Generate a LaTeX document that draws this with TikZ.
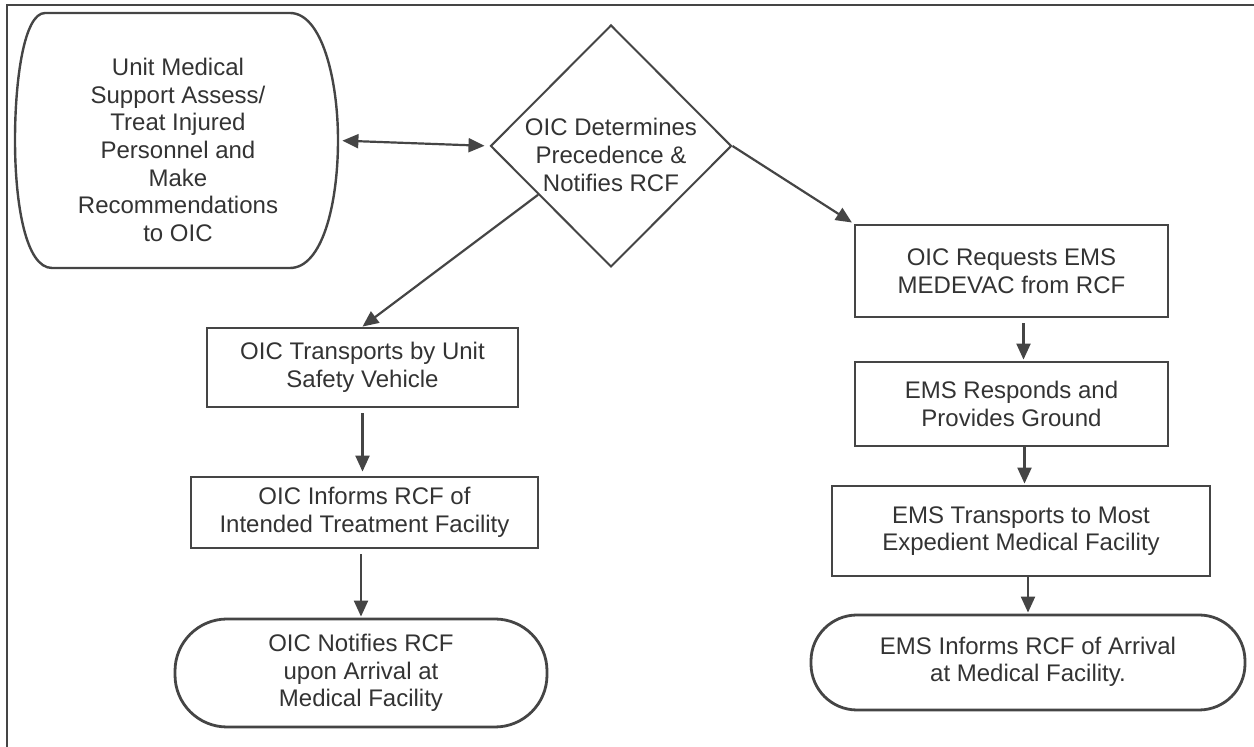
\documentclass[tikz,border=0pt]{standalone}
\usepackage{fontspec}
\setmainfont{Liberation Sans}
\usetikzlibrary{arrows.meta,shapes.geometric,calc}
\definecolor{ink}{gray}{0.27}
\definecolor{txt}{gray}{0.2}
\begin{document}
\begin{tikzpicture}[x=0.5pt,y=-0.5pt,
  font=\fontsize{12}{13.8}\selectfont,
  box/.style={draw=ink,line width=1.4pt,rectangle,align=center,text=txt,inner sep=0pt},
  termbox/.style={box,rounded corners=#1},
  lbl/.style={align=center,text=txt,inner sep=0pt},
  flow/.style={draw=ink,line width=1.1pt,-{Triangle[length=8pt,width=7pt]}},
]
\useasboundingbox (0,0) rectangle (1254,747);
% frame
\draw[ink,line width=1.3pt] (7,747) -- (7,5) -- (1254,5);

% left rounded shape
\draw[ink,line width=1.2pt] (45,13) -- (290,13)
  .. controls (322,13) and (338,80) .. (338,140)
  .. controls (338,205) and (322,268) .. (290,268)
  -- (52,268)
  .. controls (26,268) and (15,205) .. (15,140)
  .. controls (15,80) and (24,13) .. (45,13) -- cycle;
\node[minimum width=161.5pt,minimum height=127.5pt,inner sep=0pt] (um) at (176.5,140.5) {};
\node[lbl] (umtext) at (178,150) {Unit Medical\\Support Assess/\\Treat Injured\\Personnel and\\Make\\Recommendations\\to OIC};

% decision
\node[diamond,draw=ink,line width=1pt,minimum width=120.5pt,minimum height=121pt,inner sep=0pt] (dec) at (611,146) {};
\node[lbl] (dectext) at (611,155) {OIC Determines\\Precedence \&\\Notifies RCF};

% left column
\node[box,minimum width=155.5pt,minimum height=39.5pt] (trans) at (362.5,367.5) {OIC Transports by Unit\\Safety Vehicle};
\node[box,minimum width=173.5pt,minimum height=35.5pt] (inform) at (364.5,512.5) {OIC Informs RCF of\\Intended Treatment Facility};
\node[termbox=26pt,minimum width=186pt,minimum height=54pt] (notify) at (361,673) {OIC Notifies RCF\\upon Arrival at\\Medical Facility};

% right column
\node[box,minimum width=156.5pt,minimum height=46pt] (req) at (1011.5,271) {OIC Requests EMS\\MEDEVAC from RCF};
\node[box,minimum width=156.5pt,minimum height=42pt] (resp) at (1011.5,404) {EMS Responds and\\Provides Ground};
\node[box,minimum width=189pt,minimum height=45pt] (ems) at (1021,531) {EMS Transports to Most\\Expedient Medical Facility};
\node[termbox=23pt,minimum width=217pt,minimum height=47.5pt] (inf2) at (1028,662.5) {\raisebox{-3pt}{\begin{tabular}{@{}c@{}}EMS Informs RCF of Arrival\\at Medical Facility.\end{tabular}}};

% connector end points
\coordinate (reqS) at ($(req.south)+(12,0)$);
\coordinate (respS) at ($(resp.south)+(13,0)$);

% connectors
\draw[draw=ink,line width=1.1pt,{Triangle[length=8pt,width=7pt]}-{Triangle[length=8pt,width=7pt]},shorten <=2pt,shorten >=2.5pt] (um.east) -- (dec.west);
\draw[flow] ($(dec.west)!0.4!(dec.south)$) -- (trans.north);
\draw[flow,shorten >=1pt] (dec.east) -- (req.north west);
\draw[flow,shorten <=2.5pt,shorten >=2pt] (trans.south) -- (trans.south |- inform.north);
\draw[flow,shorten <=2.5pt,shorten >=0.5pt] (notify.north |- inform.south) -- (notify.north);
\draw[flow,shorten <=2.5pt,shorten >=0.5pt] (reqS) -- (reqS |- resp.north);
\draw[flow,shorten >=0.5pt] (respS) -- (respS |- ems.north);
\draw[flow,shorten >=0.5pt] (inf2.north |- ems.south) -- (inf2.north);
\end{tikzpicture}
\end{document}
